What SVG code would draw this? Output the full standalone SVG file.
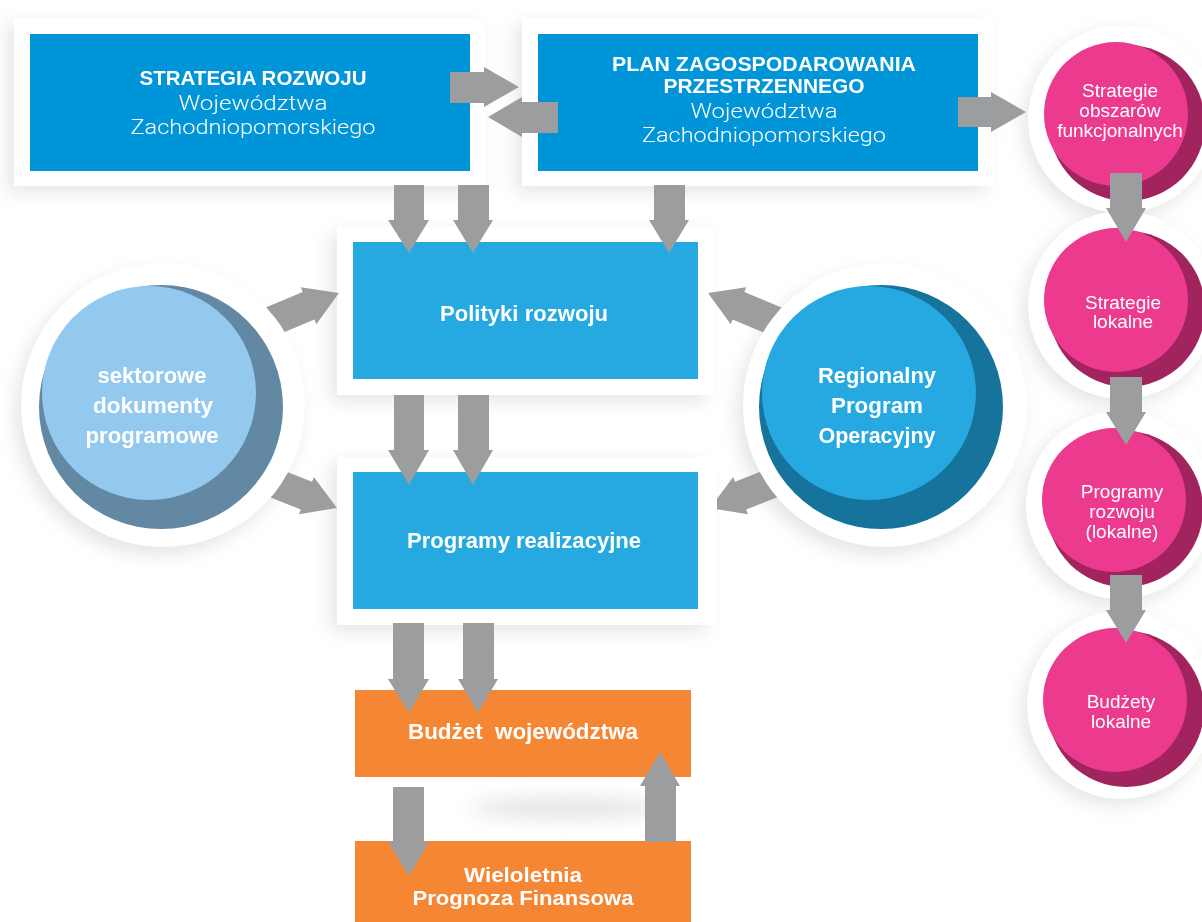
<svg xmlns="http://www.w3.org/2000/svg" width="1202" height="922" viewBox="0 0 1202 922">
<defs>
<style>
.bg{fill:#ffffff}
.frame{fill:#ffffff}
.top{fill:#0095d9}
.mid{fill:#25a9e0}
.org{fill:#f58634}
.arr{fill:#9b9d9e}
.shd{fill:#000000;opacity:0.10}
.tb{font-family:"Liberation Sans",Arial,sans-serif;font-weight:bold;fill:#ffffff;text-anchor:middle}
.tl{font-family:Roboto,"Liberation Sans",Arial,sans-serif;font-weight:300;fill:#ffffff;text-anchor:middle}
.tp{font-family:"Liberation Sans",Arial,sans-serif;font-size:19px;fill:#ffffff;text-anchor:middle}
.ring{fill:#ffffff}
.pkL{fill:#ec3a8f}
.pkD{fill:#a1245f}
</style>
<filter id="blur" x="-30%" y="-30%" width="160%" height="160%">
<feGaussianBlur stdDeviation="9"/>
</filter>
</defs>
<rect class="bg" x="0" y="0" width="1202" height="922"/>

<g id="shadows" filter="url(#blur)">
<rect class="shd" x="8" y="24" width="470" height="168"/>
<rect class="shd" x="516" y="24" width="470" height="168"/>
<rect class="shd" x="331" y="233" width="375" height="168"/>
<rect class="shd" x="331" y="463" width="375" height="168"/>
<circle class="shd" cx="157" cy="413" r="142"/>
<circle class="shd" cx="879" cy="413" r="142"/>
<circle class="shd" cx="1117" cy="125" r="94"/>
<circle class="shd" cx="1117" cy="311" r="94"/>
<circle class="shd" cx="1115" cy="511" r="94"/>
<circle class="shd" cx="1116" cy="711" r="94"/>
<ellipse class="shd" cx="565" cy="808" rx="95" ry="11"/>
</g>

<g id="node-strategia">
<rect class="frame" x="14" y="18" width="472" height="168"/>
<rect class="top" x="30" y="34" width="440" height="137"/>
<text class="tb" x="253" y="85" font-size="21" textLength="227" lengthAdjust="spacingAndGlyphs">STRATEGIA ROZWOJU</text>
<text class="tl" x="253" y="110" font-size="21" textLength="149" lengthAdjust="spacingAndGlyphs">Województwa</text>
<text class="tl" x="253" y="134" font-size="21" textLength="245" lengthAdjust="spacingAndGlyphs">Zachodniopomorskiego</text>
</g>

<g id="node-plan">
<rect class="frame" x="522" y="18" width="472" height="168"/>
<rect class="top" x="538" y="34" width="440" height="137"/>
<text class="tb" x="764" y="71" font-size="21" textLength="304" lengthAdjust="spacingAndGlyphs">PLAN ZAGOSPODAROWANIA</text>
<text class="tb" x="764" y="93" font-size="21" textLength="201" lengthAdjust="spacingAndGlyphs">PRZESTRZENNEGO</text>
<text class="tl" x="764" y="118" font-size="21" textLength="147" lengthAdjust="spacingAndGlyphs">Województwa</text>
<text class="tl" x="764" y="142" font-size="21" textLength="244" lengthAdjust="spacingAndGlyphs">Zachodniopomorskiego</text>
</g>

<g id="node-polityki">
<rect class="frame" x="337" y="227" width="377" height="168"/>
<rect class="mid" x="353" y="242" width="345" height="137"/>
<text class="tb" x="524" y="321" font-size="22" textLength="168" lengthAdjust="spacingAndGlyphs">Polityki rozwoju</text>
</g>

<g id="node-programy">
<rect class="frame" x="337" y="457" width="380" height="168"/>
<rect class="mid" x="353" y="472" width="345" height="137"/>
<text class="tb" x="524" y="548" font-size="22" textLength="234" lengthAdjust="spacingAndGlyphs">Programy realizacyjne</text>
</g>

<g id="node-budzet">
<rect class="org" x="355" y="690" width="336" height="87"/>
<text class="tb" x="523" y="739" font-size="22" textLength="230" lengthAdjust="spacingAndGlyphs" xml:space="preserve">Budżet  województwa</text>
</g>

<g id="node-wpf">
<rect class="org" x="355" y="841" width="336" height="81"/>
<text class="tb" x="523" y="882" font-size="21" textLength="118" lengthAdjust="spacingAndGlyphs">Wieloletnia</text>
<text class="tb" x="523" y="905" font-size="21" textLength="221" lengthAdjust="spacingAndGlyphs">Prognoza Finansowa</text>
</g>

<g id="node-strategie-obszarow">
<circle class="ring" cx="1122" cy="119" r="94"/>
<circle class="pkD" cx="1127" cy="123" r="78"/>
<circle class="pkL" cx="1116" cy="114" r="72"/>
<text class="tp" x="1120" y="97">Strategie</text>
<text class="tp" x="1120" y="117">obszarów</text>
<text class="tp" x="1120" y="137">funkcjonalnych</text>
</g>

<g id="node-strategie-lokalne">
<circle class="ring" cx="1122" cy="305" r="94"/>
<circle class="pkD" cx="1127" cy="309" r="78"/>
<circle class="pkL" cx="1116" cy="300" r="72"/>
<text class="tp" x="1123" y="309">Strategie</text>
<text class="tp" x="1123" y="328">lokalne</text>
</g>

<g id="node-programy-rozwoju">
<circle class="ring" cx="1120" cy="505" r="94"/>
<circle class="pkD" cx="1125" cy="509" r="78"/>
<circle class="pkL" cx="1114" cy="500" r="72"/>
<text class="tp" x="1122" y="498">Programy</text>
<text class="tp" x="1122" y="518">rozwoju</text>
<text class="tp" x="1122" y="538">(lokalne)</text>
</g>

<g id="node-budzety-lokalne">
<circle class="ring" cx="1121" cy="705" r="94"/>
<circle class="pkD" cx="1126" cy="709" r="78"/>
<circle class="pkL" cx="1115" cy="700" r="72"/>
<text class="tp" x="1121" y="708">Budżety</text>
<text class="tp" x="1121" y="728">lokalne</text>
</g>

<g id="connectors">
<path class="arr" d="M450,72 H484 V67 L519,87 L484,107 V103 H450 Z"/>
<path class="arr" d="M558,102 H522 V97 L488,117 L522,137 V133 H558 Z"/>
<path class="arr" d="M958,97 H991 V92 L1026,112 L991,132 V127 H958 Z"/>
<path class="arr" d="M394,185 V220 H388 L409,253 L429,220 H424 V185 Z"/>
<path class="arr" d="M458,185 V220 H453 L473,253 L493,220 H489 V185 Z"/>
<path class="arr" d="M654,185 V220 H649 L669,253 L689,220 H685 V185 Z"/>
<path class="arr" d="M394,395 V450 H388 L409,485 L429,450 H424 V395 Z"/>
<path class="arr" d="M458,395 V450 H453 L473,485 L493,450 H489 V395 Z"/>
<path class="arr" d="M393,623 V679 H388 L409,713 L429,679 H424 V623 Z"/>
<path class="arr" d="M463,623 V679 H458 L478,713 L498,679 H494 V623 Z"/>
<path class="arr" d="M393,787 V842 H388 L409,876 L429,842 H424 V787 Z"/>
<path class="arr" d="M645,842 V786 H640 L660,752 L680,786 H676 V842 Z"/>
<path class="arr" d="M1110,173 V208 H1106 L1126,242 L1146,208 H1142 V173 Z"/>
<path class="arr" d="M1110,377 V412 H1106 L1126,445 L1146,412 H1142 V377 Z"/>
<path class="arr" d="M1110,575 V610 H1106 L1126,643 L1146,610 H1142 V575 Z"/>
<polygon class="arr" points="259.4,310.1 302.7,291.9 300.8,287.3 339,293 316.3,324.2 314.4,319.6 271,337.8"/>
<polygon class="arr" points="268.3,464.4 312,481.8 313.8,477.1 337,508 299,514.3 300.8,509.6 257.1,492.2"/>
<polygon class="arr" points="787.6,310.1 744.3,291.9 746.2,287.3 708,293 730.7,324.2 732.6,319.6 776,337.8"/>
<polygon class="arr" points="778.7,464.4 735,481.8 733.2,477.1 717,498.7 717,509.2 748,514.3 746.2,509.6 789.9,492.2"/>
</g>

<g id="node-sektorowe">
<circle class="ring" cx="163" cy="405" r="142"/>
<circle fill="#6388a4" cx="161" cy="407" r="122"/>
<circle fill="#93c9ee" cx="149" cy="393" r="107"/>
<text class="tb" x="152" y="383" font-size="22" textLength="109" lengthAdjust="spacingAndGlyphs">sektorowe</text>
<text class="tb" x="153" y="413" font-size="22" textLength="120" lengthAdjust="spacingAndGlyphs">dokumenty</text>
<text class="tb" x="152" y="443" font-size="22" textLength="133" lengthAdjust="spacingAndGlyphs">programowe</text>
</g>

<g id="node-rpo">
<circle class="ring" cx="885" cy="405" r="142"/>
<circle fill="#16739b" cx="881" cy="407" r="122"/>
<circle fill="#25a9e0" cx="869" cy="393" r="107"/>
<text class="tb" x="877" y="383" font-size="22" textLength="118" lengthAdjust="spacingAndGlyphs">Regionalny</text>
<text class="tb" x="877" y="413" font-size="22" textLength="92" lengthAdjust="spacingAndGlyphs">Program</text>
<text class="tb" x="877" y="443" font-size="22" textLength="117" lengthAdjust="spacingAndGlyphs">Operacyjny</text>
</g>
</svg>
